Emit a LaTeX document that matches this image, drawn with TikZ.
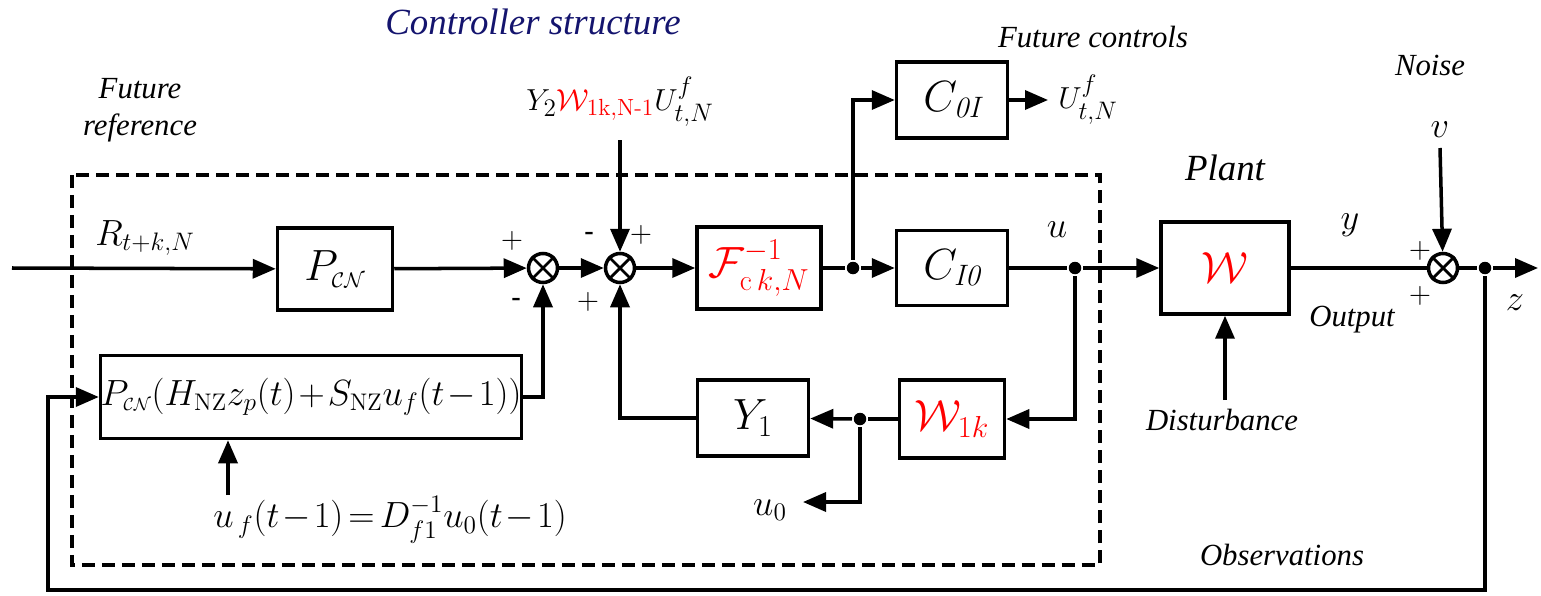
\documentclass[tikz,border=0pt]{standalone}
\usepackage{amsmath}
\usepackage{fontspec}
\usetikzlibrary{arrows.meta}
\newfontfamily\labelfont{Liberation Serif}
\newfontfamily\signfont{Liberation Sans}
\definecolor{navy}{RGB}{20,20,110}
\newcommand\tightmu{\medmuskip=1.5mu\relax\thickmuskip=2.5mu\relax}
\begin{document}
\begin{tikzpicture}[x=0.02cm,y=-0.02cm,line width=2pt,
  >={Triangle[length=0.46cm,width=0.38cm]},
  block/.style={draw, inner sep=0pt, font=\fontsize{24}{28}\selectfont},
  sum/.style={draw, circle, minimum size=0.58cm, inner sep=0pt},
  jdot/.style={circle, fill, inner sep=0pt, minimum size=0.25cm},
  lbl/.style={font=\labelfont\itshape\fontsize{17.5}{21}\selectfont, align=center},
  sgn/.style={font=\fontsize{17}{20}\selectfont},
  mth/.style={font=\fontsize{22}{26}\selectfont},
  tight/.style={font=\fontsize{19.5}{23}\selectfont}]
\useasboundingbox (0,0) rectangle (1541,595);
% controller frame
\draw[dash pattern=on 0.26cm off 0.14cm] (72,175) rectangle (1100,565);
\node[font=\labelfont\itshape\fontsize{21}{25}\selectfont, text=navy] (title) at (533,22) {Controller structure};
% blocks
\node[block, minimum width=2.3cm, minimum height=1.64cm] (pcn) at (335,269) {$P_{\scriptscriptstyle\mathcal{CN}}$};
\node[block, tight, minimum width=8.34cm, minimum height=1.66cm] (pbig) at (311,397) {$\tightmu P_{\scriptscriptstyle\mathcal{CN}}(H_{\mathrm{NZ}}z_p(t)+S_{\mathrm{NZ}}u_f(t-1))$};
\node[block, minimum width=2.48cm, minimum height=1.64cm, text=red] (finv) at (759,268) {$\mathcal{F}_{\mathrm{c}\,k,N}^{-1}$};
\node[block, minimum width=2.22cm, minimum height=1.5cm] (ci0) at (952,268) {$C_{\mathit{I0}}$};
\node[block, minimum width=2.22cm, minimum height=1.52cm] (c0i) at (952,100) {$C_{\mathit{0I}}$};
\node[block, minimum width=2.56cm, minimum height=1.84cm, text=red, font=\fontsize{28}{32}\selectfont] (plant) at (1225,268) {$\mathcal{W}$};
\node[block, minimum width=2.22cm, minimum height=1.52cm] (y1) at (753,418) {$Y_1$};
\node[block, minimum width=2.1cm, minimum height=1.56cm, text=red] (w1k) at (952,419) {$\mathcal{W}_{1k}$};
% summing junctions
\node[sum] (s1) at (543,268) {};
\node[sum] (s2) at (620,268) {};
\node[sum] (s3) at (1443,268) {};
\foreach \s in {s1,s2,s3}
  \draw[line width=1.6pt] (\s.north west) -- (\s.south east) (\s.north east) -- (\s.south west);
% branch points
\node[jdot] (d1) at (853,268) {};
\node[jdot] (d2) at (1075,268) {};
\node[jdot] (d3) at (860,419) {};
\node[jdot] (d4) at (1485,268) {};
\coordinate (rin) at (12,268);
\coordinate (zout) at (1538,268);
\coordinate (topin) at (620,140);
\coordinate (ufin) at (228,495);
\coordinate (u0end) at (803,502);
\coordinate (uout) at (1048,100);
\coordinate (vin) at (1440,148);
\coordinate (distin) at (1225,400);
\coordinate (fbl) at (48,590);
% labels
\node[mth] (rlbl) at (145,238) {$R_{t+k,N}$};
\node[mth, font=\fontsize{19}{22}\selectfont] (toplbl) at (620,102) {$Y_2{\color{red}\mathcal{W}_{\mathrm{1k,N\text{-}1}}}U^f_{t,N}$};
\node[mth, font=\fontsize{19.5}{23}\selectfont] (uflbl) at (390,520) {$\tightmu u_{\,f}(t-1)=D^{-1}_{f1}u_0(t-1)$};
\node[mth] (u0lbl) at (770,510) {$u_0$};
\node[mth, font=\fontsize{19}{22}\selectfont] (ulbl) at (1088,100) {$U^f_{t,N}$};
\node[mth] (ulab) at (1057,230) {$u$};
\node[mth] (ylab) at (1350,225) {$y$};
\node[mth] (zlab) at (1515,303) {$z$};
\node[mth] (vlab) at (1440,130) {$v$};
\node[lbl] (futref) at (140,110) {Future\\reference};
\node[lbl] (futctl) at (1093,37) {Future controls};
\node[lbl] (noise) at (1430,65) {Noise};
\node[font=\labelfont\itshape\fontsize{21}{25}\selectfont] (plantlbl) at (1225,168) {Plant};
\node[lbl] (outlbl) at (1352,320) {Output};
\node[lbl] (distlbl) at (1222,420) {Disturbance};
\node[lbl] (obslbl) at (1282,555) {Observations};
% signs
\node[sgn] (p1) at (512,241) {$+$};
\node[sgn, font=\signfont\fontsize{17}{20}\selectfont] (m1) at (516,303) {-};
\node[sgn, font=\signfont\fontsize{17}{20}\selectfont] (m2) at (589,237) {-};
\node[sgn] (p2) at (641,235) {$+$};
\node[sgn] (p3) at (588,302) {$+$};
\node[sgn] (p4) at (1420,251) {$+$};
\node[sgn] (p5) at (1420,296) {$+$};
% connectors
\draw[->] (rin) -- (pcn);
\draw[->] (pcn) -- (s1);
\draw[->] (s1) -- (s2);
\draw[->] (s2) -- (finv);
\draw (finv) -- (d1);
\draw[->] (d1) -- (ci0);
\draw[->] (d1) |- (c0i);
\draw[->] (c0i) -- (uout);
\draw (ci0) -- (d2);
\draw[->] (d2) -- (plant);
\draw[->] (d2) |- (w1k);
\draw (w1k) -- (d3);
\draw[->] (d3) -- (y1);
\draw[->] (d3) |- (u0end);
\draw[->] (y1) -| (s2);
\draw[->] (topin) -- (s2);
\draw[->] (pbig) -| (s1);
\draw[->] (ufin) -- (ufin |- pbig.south);
\draw (plant) -- (s3);
\draw (s3) -- (d4);
\draw[->] (d4) -- (zout);
\draw[->] (vin) -- (s3);
\draw[->] (distin) -- (plant);
\draw[->] (d4) |- (fbl) |- (pbig);
\end{tikzpicture}
\end{document}
